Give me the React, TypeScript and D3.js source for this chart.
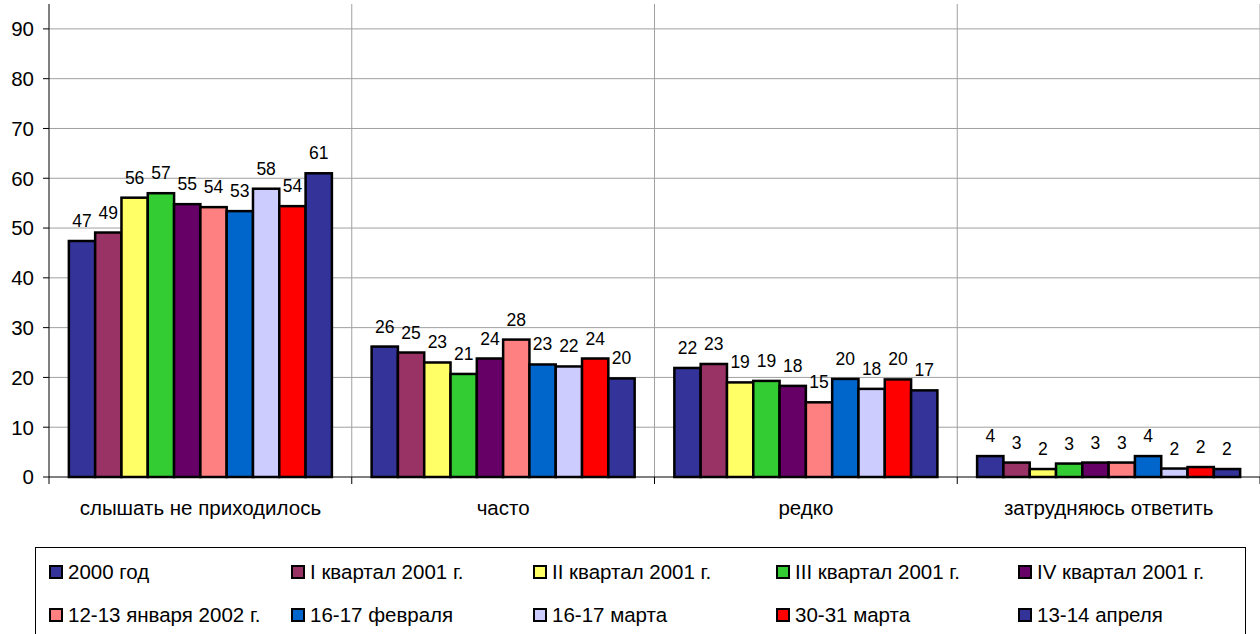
import React from "react";
import * as d3 from "d3";

const categories = ["слышать не приходилось", "часто", "редко", "затрудняюсь ответить"];
const seriesNames = [
  "2000 год",
  "I квартал 2001 г.",
  "II квартал 2001 г.",
  "III квартал 2001 г.",
  "IV квартал 2001 г.",
  "12-13 января 2002 г.",
  "16-17 февраля",
  "16-17 марта",
  "30-31 марта",
  "13-14 апреля",
];
const seriesColors = [
  "#333399", "#993366", "#FFFF66", "#33CC33", "#660066",
  "#FF8080", "#0066CC", "#CCCCFF", "#FF0000", "#333399",
];
// values[category][series]
const valuesNever = [47.4, 49.1, 56.1, 57.0, 54.8, 54.2, 53.4, 57.9, 54.4, 61.0];
const valuesOften = [26.2, 25.0, 23.0, 20.7, 23.8, 27.6, 22.6, 22.2, 23.8, 19.8];
const valuesRarely = [21.9, 22.7, 19.0, 19.3, 18.3, 15.0, 19.7, 17.7, 19.6, 17.4];
const valuesHard = [4.2, 2.9, 1.6, 2.7, 2.9, 2.9, 4.2, 1.7, 2.0, 1.6];
const labelsNever = ["47", "49", "56", "57", "55", "54", "53", "58", "54", "61"];
const labelsOften = ["26", "25", "23", "21", "24", "28", "23", "22", "24", "20"];
const labelsRarely = ["22", "23", "19", "19", "18", "15", "20", "18", "20", "17"];
const labelsHard = ["4", "3", "2", "3", "3", "3", "4", "2", "2", "2"];
const yTicks = [0, 10, 20, 30, 40, 50, 60, 70, 80, 90];

const values = [valuesNever, valuesOften, valuesRarely, valuesHard];
const labels = [labelsNever, labelsOften, labelsRarely, labelsHard];

const W = 1260;
const H = 634;
const FONT = "'Liberation Sans', Arial, sans-serif";

export default function App() {
  const left = 49;
  const right = 1260;
  const bottom = 477;
  const top = 4;

  const x = d3.scaleBand<string>().domain(categories).range([left, right]).paddingInner(0).paddingOuter(0);
  const xs = d3
    .scaleBand<string>()
    .domain(seriesNames)
    .range([0, x.bandwidth()])
    .paddingInner(0)
    .paddingOuter(0.755);
  const y = d3.scaleLinear().domain([0, 95]).range([bottom, top]);

  const boundaries = categories.map((c) => x(c) as number).concat([right]);

  const legendCols = [49, 291, 533, 776, 1018];
  const legendRows = [572, 615];

  return (
    <svg
      width={W}
      height={H}
      style={{ position: "absolute", left: 0, top: 0, background: "#fff" }}
      fontFamily={FONT}
    >
      <rect x={0} y={0} width={W} height={H} fill="#fff" />
      {/* horizontal gridlines */}
      {yTicks.filter((t) => t > 0).map((t) => (
        <line key={"g" + t} x1={left} x2={right} y1={y(t)} y2={y(t)} stroke="#a0a0a0" strokeWidth={1} />
      ))}
      {/* vertical gridlines */}
      {boundaries.slice(1).map((b, i) => (
        <line key={"v" + i} x1={b} x2={b} y1={top} y2={bottom} stroke="#a0a0a0" strokeWidth={1} />
      ))}
      {/* bars */}
      {categories.map((c, ci) => (
        <g key={c}>
          {seriesNames.map((s, si) => {
            const bx = (x(c) as number) + (xs(s) as number);
            const v = values[ci][si];
            return (
              <rect
                key={s}
                x={bx}
                y={y(v)}
                width={xs.bandwidth()}
                height={y(0) - y(v)}
                fill={seriesColors[si]}
                stroke="#000"
                strokeWidth={2.5}
              />
            );
          })}
          {seriesNames.map((s, si) => {
            const bx = (x(c) as number) + (xs(s) as number) + xs.bandwidth() / 2;
            const v = values[ci][si];
            return (
              <text key={"l" + s} x={bx} y={y(v) - 14} textAnchor="middle" fontSize={17.5} fill="#000">
                {labels[ci][si]}
              </text>
            );
          })}
        </g>
      ))}
      {/* y axis */}
      <line x1={left} x2={left} y1={top} y2={bottom} stroke="#000" strokeWidth={1} />
      {yTicks.map((t) => (
        <g key={"t" + t}>
          <line x1={left - 6} x2={left} y1={y(t)} y2={y(t)} stroke="#000" />
          <text x={34} y={y(t)} dy="0.36em" textAnchor="end" fontSize={20.5} fill="#000">
            {t}
          </text>
        </g>
      ))}
      {/* x axis */}
      <line x1={left} x2={right} y1={bottom} y2={bottom} stroke="#000" strokeWidth={1} />
      {boundaries.map((b, i) => (
        <line key={"xt" + i} x1={b} x2={b} y1={bottom} y2={bottom + 7} stroke="#000" />
      ))}
      {categories.map((c) => (
        <text
          key={"c" + c}
          x={(x(c) as number) + x.bandwidth() / 2}
          y={515}
          textAnchor="middle"
          fontSize={20.5}
          fill="#000"
        >
          {c}
        </text>
      ))}
      {/* legend */}
      <rect x={35.5} y={547.5} width={1210} height={120} fill="#fff" stroke="#000" strokeWidth={1} />
      {seriesNames.map((s, i) => {
        const col = i % 5;
        const row = Math.floor(i / 5);
        const lx = legendCols[col];
        const ly = legendRows[row];
        return (
          <g key={"lg" + s}>
            <rect x={lx + 1} y={ly - 6} width={12} height={12} fill={seriesColors[i]} stroke="#000" strokeWidth={2} />
            <text x={lx + 19} y={ly} dy="0.36em" fontSize={20.5} fill="#000">
              {s}
            </text>
          </g>
        );
      })}
    </svg>
  );
}
